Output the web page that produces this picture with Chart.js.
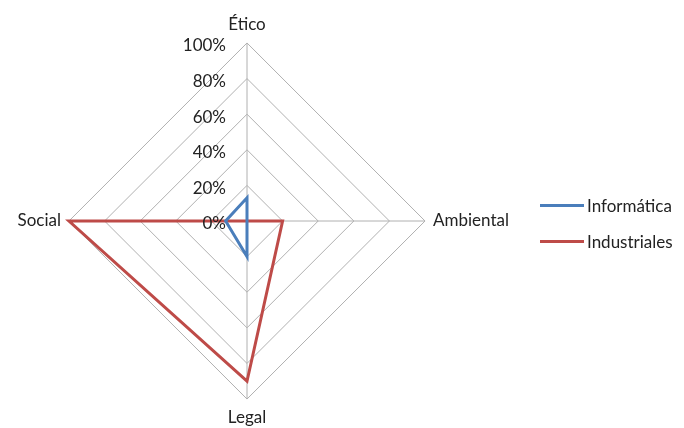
<!DOCTYPE html>
<html>
<head>
<meta charset="utf-8">
<script src="https://cdn.jsdelivr.net/npm/chart.js@4.4.1/dist/chart.umd.min.js"></script>
<style>
  html, body { margin: 0; padding: 0; background: #fff; }
  #wrap { position: relative; width: 684px; height: 428px; overflow: hidden; }
  #legend { position: absolute; left: 540px; top: 187px; font-family: Lato, "Noto Sans", sans-serif; font-size: 17px; color: #222; }
  #legend div { height: 36px; display: flex; align-items: center; }
  #legend span.sw { display: inline-block; width: 44px; height: 3px; margin-right: 3px; }
</style>
</head>
<body>
<div id="wrap">
  <canvas id="myChart" width="684" height="428"></canvas>
  <div id="legend"></div>
</div>
<script>
var categories = ["Ético", "Ambiental", "Legal", "Social"];
var informatica = [13, 0, 20, 12];
var industriales = [0, 20, 90, 100];
var tickLabels = ["0%", "20%", "40%", "60%", "80%", "100%"];
var seriesNames = ["Informática", "Industriales"];
var seriesColors = ["#4a7ebb", "#be4b48"];

var tickPlugin = {
  id: 'tickPlugin',
  afterDraw: function (chart) {
    var s = chart.scales.r;
    var ctx = chart.ctx;
    ctx.save();
    ctx.font = '17px Lato, "Noto Sans", sans-serif';
    ctx.fillStyle = '#222';
    ctx.textAlign = 'right';
    ctx.textBaseline = 'middle';
    for (var i = 0; i < tickLabels.length; i++) {
      var d = s.getDistanceFromCenterForValue(i * 20);
      ctx.fillText(tickLabels[i], s.xCenter - 21, s.yCenter - d + 3);
    }
    ctx.restore();
  }
};

var ctx = document.getElementById("myChart");
var myChart = new Chart(ctx, {
  type: 'radar',
  data: {
    labels: categories,
    datasets: [{
      label: seriesNames[0],
      data: informatica,
      borderColor: seriesColors[0],
      backgroundColor: 'rgba(0,0,0,0)',
      borderWidth: 3,
      pointRadius: 0
    }, {
      label: seriesNames[1],
      data: industriales,
      borderColor: seriesColors[1],
      backgroundColor: 'rgba(0,0,0,0)',
      borderWidth: 3,
      pointRadius: 0
    }]
  },
  options: {
    responsive: false,
    animation: false,
    layout: { padding: { left: -4, right: 160, top: 14, bottom: -26 } },
    plugins: { legend: { display: false }, tooltip: { enabled: false } },
    elements: { line: { tension: 0 } },
    scales: {
      r: {
        min: 0,
        max: 100,
        ticks: { stepSize: 20, display: false },
        grid: { color: '#b0b0b0', lineWidth: 1 },
        angleLines: { color: '#b0b0b0', lineWidth: 1 },
        pointLabels: {
          padding: 8,
          color: '#222',
          font: { family: 'Lato, "Noto Sans", sans-serif', size: 17 }
        }
      }
    }
  },
  plugins: [tickPlugin]
});

var lg = document.getElementById('legend');
for (var i = 0; i < seriesNames.length; i++) {
  var row = document.createElement('div');
  row.innerHTML = '<span class="sw" style="background:' + seriesColors[i] + '"></span>' + seriesNames[i];
  lg.appendChild(row);
}
</script>
</body>
</html>
